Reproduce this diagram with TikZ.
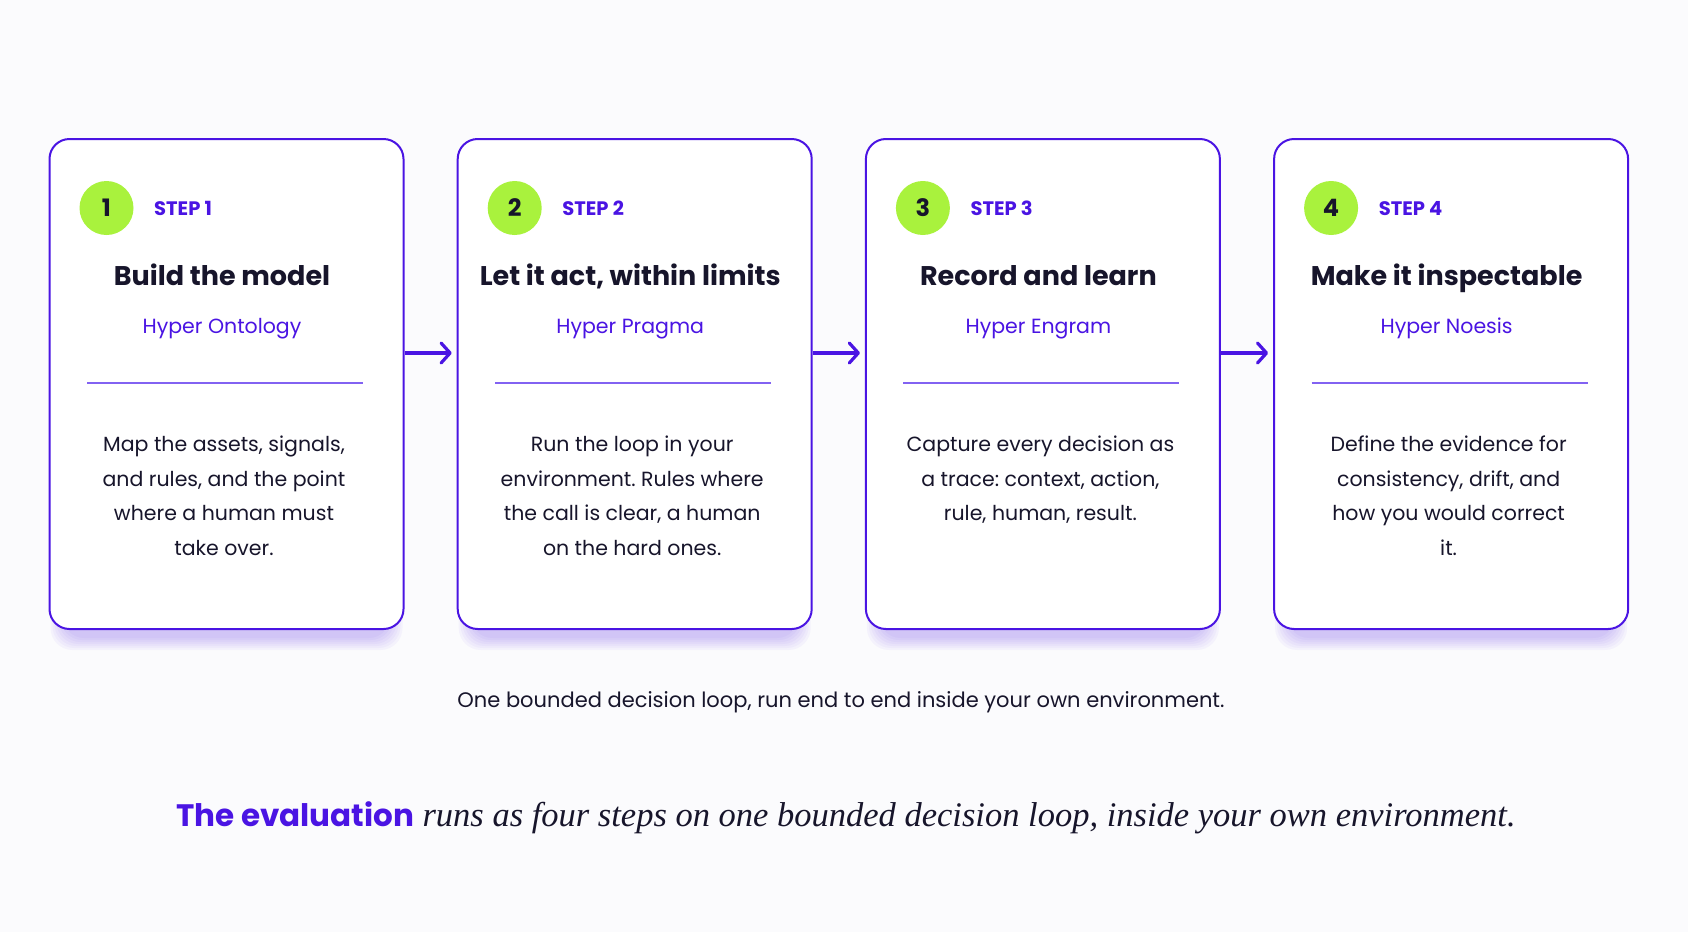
\documentclass[tikz,border=0pt]{standalone}
\usepackage{fontspec}
\setmainfont{Poppins}
\newfontfamily\captionserif{Liberation Serif}
\usetikzlibrary{arrows.meta,backgrounds}
\frenchspacing

\definecolor{stepviolet}{HTML}{4A14E3}
\definecolor{ruleviolet}{HTML}{8262F2}
\definecolor{limegreen}{HTML}{A9F23D}
\definecolor{inkdark}{HTML}{17152B}
\definecolor{pagebg}{HTML}{FBFBFD}

\tikzset{
  card/.style={draw=stepviolet, line width=2pt, rounded corners=20pt, fill=white,
    minimum width=354pt, minimum height=490pt, inner sep=0pt},
  numdot/.style={circle, fill=limegreen, minimum size=54pt, inner sep=0pt,
    text=inkdark, font=\fontsize{24}{24}\selectfont\bfseries},
  steplbl/.style={anchor=base west, inner sep=0pt, text=stepviolet,
    font=\fontsize{19.5}{19.5}\selectfont\bfseries},
  cardtitle/.style={anchor=base, inner sep=0pt, text=inkdark,
    font=\fontsize{27}{27}\selectfont\bfseries},
  cardsub/.style={anchor=base, inner sep=0pt, text=stepviolet,
    font=\fontsize{20.5}{20.5}\selectfont},
  cardbody/.style={anchor=north, inner sep=0pt, align=center,
    text=inkdark, font=\fontsize{20.5}{34.4}\selectfont},
  divider/.style={draw=ruleviolet, line width=1.5pt},
  flow/.style={draw=stepviolet, line width=3.2pt, shorten >=5pt,
    -{Straight Barb[length=9pt,width=20pt,round]}},
  glow/.style={fill=stepviolet, opacity=0.035, rounded corners=22pt}
}

\begin{document}
\begin{tikzpicture}[x=1pt,y=-1pt]
\useasboundingbox (0,0) rectangle (1688,932);

% step 1
\node[card] (box1) at (226.5,384) {};
\node[numdot] (num1) at (106.5,208) {1};
\node[steplbl] (lbl1) at (154,215.5) {STEP 1};
\node[cardtitle] (title1) at (222,285.5) {Build the model};
\node[cardsub] (sub1) at (222,333) {Hyper Ontology};
\coordinate (rulel1) at (87,383);
\coordinate (ruler1) at (363,383);
\draw[divider] (rulel1) -- (ruler1);
\node[cardbody] (body1) at (224,436) {Map the assets, signals,\\and rules, and the point\\where a human must\\take over.};

% step 2
\node[card] (box2) at (634.7,384) {};
\node[numdot] (num2) at (514.7,208) {2};
\node[steplbl] (lbl2) at (562.2,215.5) {STEP 2};
\node[cardtitle] (title2) at (630.2,285.5) {Let it act, within limits};
\node[cardsub] (sub2) at (630.2,333) {Hyper Pragma};
\coordinate (rulel2) at (495.2,383);
\coordinate (ruler2) at (771.2,383);
\draw[divider] (rulel2) -- (ruler2);
\node[cardbody] (body2) at (632.2,436) {Run the loop in your\\environment. Rules where\\the call is clear, a human\\on the hard ones.};

% step 3
\node[card] (box3) at (1042.9,384) {};
\node[numdot] (num3) at (922.9,208) {3};
\node[steplbl] (lbl3) at (970.4,215.5) {STEP 3};
\node[cardtitle] (title3) at (1038.4,285.5) {Record and learn};
\node[cardsub] (sub3) at (1038.4,333) {Hyper Engram};
\coordinate (rulel3) at (903.4,383);
\coordinate (ruler3) at (1179.4,383);
\draw[divider] (rulel3) -- (ruler3);
\node[cardbody] (body3) at (1040.4,436) {Capture every decision as\\a trace: context, action,\\rule, human, result.};

% step 4
\node[card] (box4) at (1451.1,384) {};
\node[numdot] (num4) at (1331.1,208) {4};
\node[steplbl] (lbl4) at (1378.6,215.5) {STEP 4};
\node[cardtitle] (title4) at (1446.6,285.5) {Make it inspectable};
\node[cardsub] (sub4) at (1446.6,333) {Hyper Noesis};
\coordinate (rulel4) at (1311.6,383);
\coordinate (ruler4) at (1587.6,383);
\draw[divider] (rulel4) -- (ruler4);
\node[cardbody] (body4) at (1448.6,436) {Define the evidence for\\consistency, drift, and\\how you would correct\\it.};

% page and soft shadows under the cards
\begin{scope}[on background layer]
\fill[pagebg] (0,0) rectangle (1688,932);
\foreach \b in {box1,box2,box3,box4}
  \foreach \s in {0,2,...,12}
    \fill[glow] ([xshift={(14-\s)*1pt}, yshift={-(\s+8)*1pt}]\b.south west) rectangle ([xshift={(\s-14)*1pt}, yshift=-60pt]\b.north east);
\end{scope}

% arrows between the cards
\coordinate (arrowrow) at (0,353);
\draw[flow] (box1.east |- arrowrow) -- (box2.west |- arrowrow);
\draw[flow] (box2.east |- arrowrow) -- (box3.west |- arrowrow);
\draw[flow] (box3.east |- arrowrow) -- (box4.west |- arrowrow);

\node[inner sep=0pt, text=inkdark, font=\fontsize{21}{21}\selectfont] (note) at (841,702)
  {One bounded decision loop, run end to end inside your own environment.};
\node[inner sep=0pt, text=inkdark] (caption) at (846,818)
  {\fontsize{31}{31}\selectfont\textcolor{stepviolet}{\bfseries The evaluation} {\captionserif\itshape\fontsize{34.5}{34.5}\selectfont runs as four steps on one bounded decision loop, inside your own environment.}};
\end{tikzpicture}
\end{document}
